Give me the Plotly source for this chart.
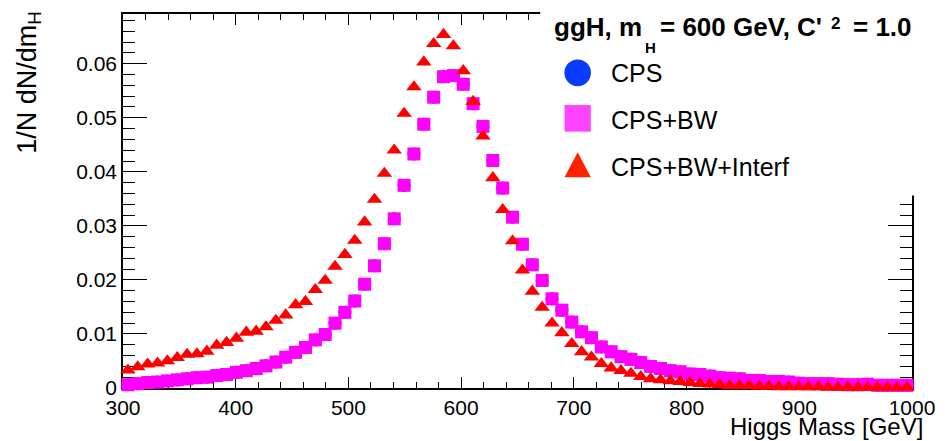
import plotly.graph_objects as go

# ---------------- data ----------------
BIN_START = 300.0          # lower edge of histogram range [GeV]
BIN_WIDTH = 8.75           # 80 bins over 300-1000 GeV

cps_bw = [0.0006, 0.0008, 0.0010, 0.0011, 0.0013, 0.0015, 0.0017, 0.0019, 0.0020, 0.0023,
          0.0025, 0.0029, 0.0032, 0.0036, 0.0041, 0.0048, 0.0057, 0.0066, 0.0075, 0.0089,
          0.0099, 0.0120, 0.0140, 0.0161, 0.0192, 0.0226, 0.0267, 0.0313, 0.0375, 0.0433,
          0.0488, 0.0538, 0.0576, 0.0578, 0.0562, 0.0526, 0.0484, 0.0421, 0.0370, 0.0316,
          0.0266, 0.0228, 0.0199, 0.0165, 0.0144, 0.0122, 0.0104, 0.0093, 0.0076, 0.0067,
          0.0058, 0.0053, 0.0047, 0.0040, 0.0036, 0.0032, 0.0030, 0.0026, 0.0025, 0.0022,
          0.0019, 0.0018, 0.0017, 0.0014, 0.0014, 0.0012, 0.0012, 0.0011, 0.0009, 0.0008,
          0.0008, 0.0008, 0.0007, 0.0006, 0.0006, 0.0007, 0.0005, 0.0005, 0.0005, 0.0005]

# CPS alone coincides with CPS+BW (fully hidden under the squares)
cps = [0.0006, 0.0008, 0.0010, 0.0011, 0.0013, 0.0015, 0.0017, 0.0019, 0.0020, 0.0023,
       0.0025, 0.0029, 0.0032, 0.0036, 0.0041, 0.0048, 0.0057, 0.0066, 0.0075, 0.0089,
       0.0099, 0.0120, 0.0140, 0.0161, 0.0192, 0.0226, 0.0267, 0.0313, 0.0375, 0.0433,
       0.0488, 0.0538, 0.0576, 0.0578, 0.0562, 0.0526, 0.0484, 0.0421, 0.0370, 0.0316,
       0.0266, 0.0228, 0.0199, 0.0165, 0.0144, 0.0122, 0.0104, 0.0093, 0.0076, 0.0067,
       0.0058, 0.0053, 0.0047, 0.0040, 0.0036, 0.0032, 0.0030, 0.0026, 0.0025, 0.0022,
       0.0019, 0.0018, 0.0017, 0.0014, 0.0014, 0.0012, 0.0012, 0.0011, 0.0009, 0.0008,
       0.0008, 0.0008, 0.0007, 0.0006, 0.0006, 0.0007, 0.0005, 0.0005, 0.0005, 0.0005]

cps_bw_interf = [0.0033, 0.0039, 0.0044, 0.0046, 0.0050, 0.0056, 0.0062, 0.0063, 0.0068, 0.0079,
                 0.0084, 0.0092, 0.0103, 0.0105, 0.0113, 0.0125, 0.0135, 0.0154, 0.0160, 0.0182,
                 0.0199, 0.0225, 0.0247, 0.0273, 0.0307, 0.0349, 0.0397, 0.0440, 0.0508, 0.0557,
                 0.0603, 0.0637, 0.0654, 0.0633, 0.0587, 0.0530, 0.0466, 0.0389, 0.0330, 0.0272,
                 0.0218, 0.0179, 0.0149, 0.0120, 0.0102, 0.0082, 0.0067, 0.0057, 0.0045, 0.0037,
                 0.0032, 0.0027, 0.0021, 0.0017, 0.0015, 0.0013, 0.0012, 0.0010, 0.0008, 0.0007,
                 0.0006, 0.0004, 0.0004, 0.0004, 0.0003, 0.0003, 0.0002, 0.0002, 0.0002, 0.0002,
                 0.0002, 0.0001, 0.0001, 0.0001, 0.0001, 0.0001, 0.0001, 0.0001, 0.0001, 0.0001]

x_tick_vals = [300, 400, 500, 600, 700, 800, 900, 1000]
y_tick_vals = [0, 0.01, 0.02, 0.03, 0.04, 0.05, 0.06]
y_tick_text = ["0", "0.01", "0.02", "0.03", "0.04", "0.05", "0.06"]

series_names = ["CPS", "CPS+BW", "CPS+BW+Interf"]
# legend header "ggH, m_H = 600 GeV, C'^2 = 1.0", split into its TLatex pieces
title_main_1 = "ggH, m"
title_sub = "H"
title_main_2 = "= 600 GeV, C'"
title_sup = "2"
title_main_3 = "= 1.0"

# ---------------- layout geometry (pixels) ----------------
W, H = 947, 441
L, R, T, B = 123, 24, 13, 53
PW, PH = W - L - R, H - T - B
FONT = "Liberation Sans, Arial, Helvetica, sans-serif"


def px_x(px):
    return (px - L) / PW


def px_y(py):
    return (H - B - py) / PH


fig = go.Figure()

x0 = BIN_START + BIN_WIDTH / 2
fig.add_trace(go.Scatter(y=cps, x0=x0, dx=BIN_WIDTH, mode="markers", name=series_names[0],
                         marker=dict(symbol="circle", size=13, color="#0033ff", line=dict(width=0)),
                         cliponaxis=False, showlegend=False))
fig.add_trace(go.Scatter(y=cps_bw, x0=x0, dx=BIN_WIDTH, mode="markers", name=series_names[1],
                         marker=dict(symbol="square", size=13, color="#ff00ff", line=dict(width=0)),
                         cliponaxis=False, showlegend=False))
fig.add_trace(go.Scatter(y=cps_bw_interf, x0=x0, dx=BIN_WIDTH, mode="markers", name=series_names[2],
                         marker=dict(symbol="triangle-up", size=13.5, color="#ff0000", line=dict(width=0)),
                         cliponaxis=False, showlegend=False))

axis_common = dict(showline=True, linecolor="black", linewidth=1.5, mirror="ticks",
                   ticks="inside", tickcolor="black", tickwidth=1.2, showgrid=False,
                   zeroline=False, layer="below traces",
                   tickfont=dict(family=FONT, size=21, color="black"))

fig.update_xaxes(range=[300, 1000], tickvals=x_tick_vals, ticklen=11,
                 minor=dict(dtick=20, tick0=300, ticks="inside", ticklen=6, tickcolor="black", tickwidth=1.2),
                 **axis_common)
fig.update_yaxes(range=[0, 0.0692], tickvals=y_tick_vals, ticktext=y_tick_text, ticklen=24,
                 minor=dict(dtick=0.002, tick0=0, ticks="inside", ticklen=12, tickcolor="black", tickwidth=1.2),
                 **axis_common)

shapes = []
# white legend pad covering the upper-right corner of the frame
shapes.append(dict(type="rect", xref="paper", yref="paper", layer="above",
                   x0=px_x(546), x1=px_x(960), y0=px_y(195), y1=px_y(-5),
                   fillcolor="white", line=dict(width=0)))
# legend symbols
shapes.append(dict(type="circle", xref="paper", yref="paper", layer="above",
                   x0=px_x(570.5), x1=px_x(597.5), y0=px_y(85.5), y1=px_y(58.5),
                   fillcolor="#0a3cff", line=dict(width=0)))
shapes.append(dict(type="rect", xref="paper", yref="paper", layer="above",
                   x0=px_x(570.7), x1=px_x(597.3), y0=px_y(131), y1=px_y(104.3),
                   fillcolor="#ff44ff", line=dict(width=0)))
tri = "M {:.4f} {:.4f} L {:.4f} {:.4f} L {:.4f} {:.4f} Z".format(
    px_x(570.7), px_y(176.7), px_x(597.3), px_y(176.7), px_x(584), px_y(151.7))
shapes.append(dict(type="path", xref="paper", yref="paper", layer="above", path=tri,
                   fillcolor="#ff2200", line=dict(width=0)))

annotations = []


def label(text, x, y, size, xanchor="left", yanchor="middle", bold=False, angle=0):
    annotations.append(dict(text=("<b>%s</b>" % text) if bold else text,
                            xref="paper", yref="paper", x=px_x(x), y=px_y(y),
                            xanchor=xanchor, yanchor=yanchor, showarrow=False, textangle=angle,
                            font=dict(family=FONT, size=size, color="black")))


# legend header pieces
label(title_main_1, 558, 26, 26, bold=True)
label(title_sub, 650, 47, 15, bold=True)
label(title_main_2, 665, 26, 26, bold=True)
label(title_sup, 839, 23, 17, bold=True)
label(title_main_3, 861, 26, 26, bold=True)
# legend entries
for name, cy in zip(series_names, [72, 119, 166]):
    label(name, 616, cy, 25)
# axis titles
label("Higgs Mass [GeV]", 936, 427, 24, xanchor="right")
annotations.append(dict(text="1/N dN/dm<sub>H</sub>", xref="paper", yref="paper", x=px_x(27), y=px_y(8),
                        xanchor="center", yanchor="top", textangle=-90, showarrow=False,
                        font=dict(family=FONT, size=27, color="black")))

fig.update_layout(width=W, height=H, margin=dict(l=L, r=R, t=T, b=B, pad=0),
                  plot_bgcolor="white", paper_bgcolor="white", showlegend=False,
                  shapes=shapes, annotations=annotations)

fig.write_html("out.html")
